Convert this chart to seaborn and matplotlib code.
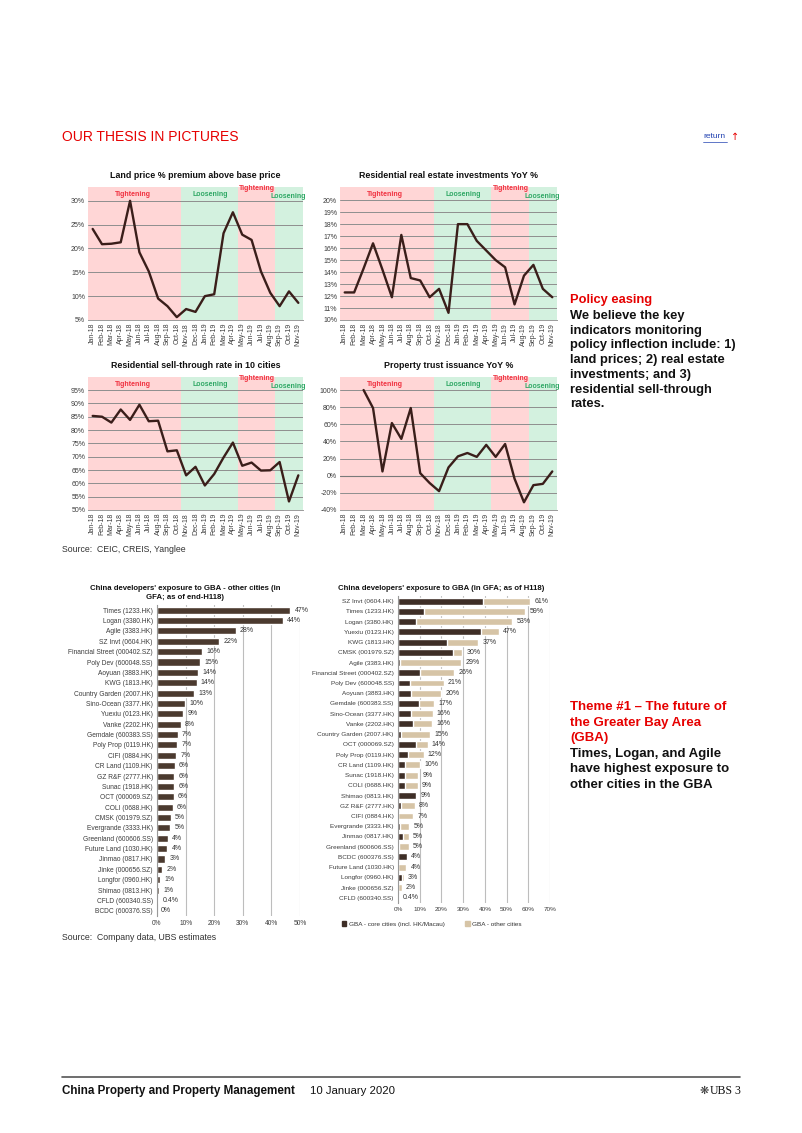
import numpy as np
import matplotlib
matplotlib.use("Agg")
import matplotlib.pyplot as plt
from matplotlib.lines import Line2D
from matplotlib.patches import Patch
from matplotlib.ticker import FuncFormatter
import seaborn as sns

sns.set_theme(style="white")
plt.rcParams["font.family"] = ["Liberation Sans", "DejaVu Sans"]

W, H = 802, 1133

# ---------------- data: policy line charts ----------------
months = ["Jan-18", "Feb-18", "Mar-18", "Apr-18", "May-18", "Jun-18", "Jul-18",
          "Aug-18", "Sep-18", "Oct-18", "Nov-18", "Dec-18", "Jan-19", "Feb-19",
          "Mar-19", "Apr-19", "May-19", "Jun-19", "Jul-19", "Aug-19", "Sep-19",
          "Oct-19", "Nov-19"]

land_premium = [24.1, 20.9, 21.0, 21.3, 30.0, 19.2, 15.2, 9.5, 7.9, 5.6, 7.3, 6.7,
                10.0, 10.4, 23.2, 27.6, 22.9, 21.8, 15.2, 10.7, 7.9, 11.0, 8.6]
res_invest = [12.3, 12.3, 14.3, 16.4, 14.2, 11.9, 17.1, 13.5, 13.3, 11.9, 12.6, 10.6,
              18.0, 18.0, 16.6, 15.8, 15.0, 14.4, 11.3, 13.7, 14.6, 12.6, 11.9]
sell_through = [85.3, 85.0, 82.8, 87.7, 83.8, 89.5, 83.3, 83.5, 72.0, 72.4, 63.0, 66.2,
                59.2, 63.5, 69.7, 75.3, 66.6, 67.8, 64.8, 64.9, 68.0, 53.2, 63.0]
trust_issuance = [np.nan, np.nan, 100.0, 79.0, 5.0, 61.5, 43.0, 79.0, 3.0, -8.5, -18.0, 9.7,
                  22.6, 26.5, 22.0, 36.0, 22.0, 37.0, -3.5, -31.0, -11.0, -9.5, 5.0]

policy_labels = ["Tightening", "Loosening", "Tightening", "Loosening"]
policy_start = [0, 10, 16, 20]
policy_end = [9, 15, 19, 22]

# ---------------- data: GBA exposure bars ----------------
other_names = ["Times (1233.HK)", "Logan (3380.HK)", "Agile (3383.HK)", "SZ Invt (0604.HK)",
               "Financial Street (000402.SZ)", "Poly Dev (600048.SS)", "Aoyuan (3883.HK)",
               "KWG (1813.HK)", "Country Garden (2007.HK)", "Sino-Ocean (3377.HK)",
               "Yuexiu (0123.HK)", "Vanke (2202.HK)", "Gemdale (600383.SS)",
               "Poly Prop (0119.HK)", "CIFI (0884.HK)", "CR Land (1109.HK)",
               "GZ R&F (2777.HK)", "Sunac (1918.HK)", "OCT (000069.SZ)", "COLI (0688.HK)",
               "CMSK (001979.SZ)", "Evergrande (3333.HK)", "Greenland (600606.SS)",
               "Future Land (1030.HK)", "Jinmao (0817.HK)", "Jinke (000656.SZ)",
               "Longfor (0960.HK)", "Shimao (0813.HK)", "CFLD (600340.SS)", "BCDC (600376.SS)"]
other_share = [46.6, 44.0, 27.6, 21.8, 15.8, 15.1, 14.3, 13.9, 12.9, 9.8, 9.1, 8.4, 7.3,
               7.1, 6.8, 6.2, 6.1, 6.1, 5.8, 5.5, 4.8, 4.6, 3.8, 3.6, 2.8, 1.8, 1.1, 0.7,
               0.4, 0.0]
other_labels = ["47%", "44%", "28%", "22%", "16%", "15%", "14%", "14%", "13%", "10%", "9%",
                "8%", "7%", "7%", "7%", "6%", "6%", "6%", "6%", "6%", "5%", "5%", "4%", "4%",
                "3%", "2%", "1%", "1%", "0.4%", "0%"]

gba_names = ["SZ Invt (0604.HK)", "Times (1233.HK)", "Logan (3380.HK)", "Yuexiu (0123.HK)",
             "KWG (1813.HK)", "CMSK (001979.SZ)", "Agile (3383.HK)",
             "Financial Street (000402.SZ)", "Poly Dev (600048.SS)", "Aoyuan (3883.HK)",
             "Gemdale (600383.SS)", "Sino-Ocean (3377.HK)", "Vanke (2202.HK)",
             "Country Garden (2007.HK)", "OCT (000069.SZ)", "Poly Prop (0119.HK)",
             "CR Land (1109.HK)", "Sunac (1918.HK)", "COLI (0688.HK)", "Shimao (0813.HK)",
             "GZ R&F (2777.HK)", "CIFI (0884.HK)", "Evergrande (3333.HK)", "Jinmao (0817.HK)",
             "Greenland (600606.SS)", "BCDC (600376.SS)", "Future Land (1030.HK)",
             "Longfor (0960.HK)", "Jinke (000656.SZ)", "CFLD (600340.SS)"]
gba_total = [60.8, 58.6, 52.7, 46.5, 37.0, 29.6, 29.0, 25.8, 21.0, 20.0, 16.8, 16.0, 15.7,
             14.8, 13.6, 11.8, 10.1, 9.2, 9.0, 8.6, 7.8, 7.0, 5.2, 5.0, 4.9, 4.0, 3.8, 2.6,
             1.8, 0.4]
gba_core = [39.2, 11.9, 8.2, 38.0, 22.5, 25.1, 1.1, 10.0, 5.4, 5.9, 9.7, 6.2, 6.9, 1.6, 8.2,
            4.8, 3.2, 3.0, 3.2, 8.2, 1.3, 0.2, 0.8, 2.5, 0.4, 4.0, 0.2, 1.9, 0.0, 0.0]
gba_labels = ["61%", "59%", "53%", "47%", "37%", "30%", "29%", "26%", "21%", "20%", "17%",
              "16%", "16%", "15%", "14%", "12%", "10%", "9%", "9%", "9%", "8%", "7%", "5%",
              "5%", "5%", "4%", "4%", "3%", "2%", "0.4%"]

# ---------------- colours ----------------
RED = "#E60000"
PINK = "#FFD6D6"
GREEN = "#D3F1DF"
TIGHT_TXT = "#F0303F"
LOOSE_TXT = "#2FA865"
LINE = "#3A1E1A"
BROWN = "#4B3A2F"
DARK = "#3E2E26"
BEIGE = "#D6C4A6"
TICK = "#3C3C3C"

fig = plt.figure(figsize=(W / 100, H / 100), dpi=100)


def add_ax(x0, y0, x1, y1):
    return fig.add_axes([x0 / W, 1 - y1 / H, (x1 - x0) / W, (y1 - y0) / H])


def ftext(x, y, s, **kw):
    kw.setdefault("va", "center")
    return fig.text(x / W, 1 - y / H, s, **kw)


pct = FuncFormatter(lambda v, p: f"{v:.0f}%")


def line_panel(box, values, title, title_y, ylim, yticks):
    ax = add_ax(*box)
    idx = np.arange(len(months))
    for lab, s, e in zip(policy_labels, policy_start, policy_end):
        ax.axvspan(s - 0.5, e + 0.5, color=PINK if lab == "Tightening" else GREEN,
                   lw=0, zorder=0)
    # label placement inside the shaded bands
    for lab, xt, yt in zip(policy_labels, [4.3, 12.6, 17.6, 20.9], [0.945, 0.945, 0.985, 0.93]):
        ax.text(xt, yt, lab, transform=ax.get_xaxis_transform(), ha="center", va="center",
                fontsize=5, fontweight="bold",
                color=TIGHT_TXT if lab == "Tightening" else LOOSE_TXT)
    sns.lineplot(x=idx, y=values, ax=ax, color=LINE, lw=1.7, zorder=3)
    ax.set_xlim(-0.5, len(months) - 0.5)
    ax.set_ylim(*ylim)
    ax.set_yticks(yticks)
    ax.yaxis.set_major_formatter(pct)
    ax.set_xticks(idx)
    ax.set_xticklabels(months, rotation=90)
    ax.tick_params(axis="both", labelsize=5, colors=TICK, length=0, pad=2)
    ax.grid(axis="y", color="#8E8E8E", lw=0.7)
    ax.set_axisbelow("line")
    for sp in ["top", "right", "left"]:
        ax.spines[sp].set_visible(False)
    ax.spines["bottom"].set_color("#9A9A9A")
    ax.spines["bottom"].set_linewidth(0.7)
    ax.set_xlabel("")
    ax.set_ylabel("")
    cx = (box[0] + box[2]) / 2
    ftext(cx, title_y, title, ha="center", fontsize=6.4, fontweight="bold", color="#111")
    return ax


# header
ftext(62, 137, "OUR THESIS IN PICTURES", fontsize=10, color=RED)
ftext(703, 137, "return", fontsize=6, color="#2040B0")
fig.add_artist(Line2D([703 / W, 727 / W], [1 - 141.5 / H] * 2, color="#2040B0", lw=0.5))
ftext(731, 137, "\u2191", fontsize=7, color=RED, family=["DejaVu Sans"])

line_panel((88, 187, 303, 320), land_premium, "Land price % premium above base price", 176,
           (5, 32.9), np.arange(5, 31, 5))
line_panel((340, 187, 557, 320), res_invest, "Residential real estate investments YoY %", 176,
           (10, 21.1), np.arange(10, 21, 1))
line_panel((88, 377, 303, 510), sell_through, "Residential sell-through rate in 10 cities", 365,
           (50, 99.9), np.arange(50, 96, 5))
ax4 = line_panel((340, 377, 557, 510), trust_issuance, "Property trust issuance YoY %", 365,
                 (-40, 115.2), np.arange(-40, 101, 20))
ax4.axhline(0, color="#7A7A7A", lw=0.8, zorder=1.6)

ftext(62, 549, "Source:  CEIC, CREIS, Yanglee", fontsize=6.3, color="#333")

# right-side commentary
ftext(570, 300, "Policy easing", fontsize=9.3, fontweight="bold", color=RED)
policy_lines = ["We believe the key", "indicators monitoring", "policy inflection include: 1)",
                "land prices; 2) real estate", "investments; and 3)", "residential sell-through",
                "rates."]
for i, s in enumerate(policy_lines):
    ftext(570, 316 + 14.7 * i, s, fontsize=9.3, fontweight="bold", color="#111")

theme_red = ["Theme #1 \u2013 The future of", "the Greater Bay Area", "(GBA)"]
theme_black = ["Times, Logan, and Agile", "have highest exposure to", "other cities in the GBA"]
for i, s in enumerate(theme_red + theme_black):
    ftext(570, 707 + 15.6 * i, s, fontsize=9.5, fontweight="bold",
          color=RED if i < 3 else "#111")

# ---------------- left bar chart ----------------
axb = add_ax(157, 605, 300, 916)
sns.barplot(x=other_share, y=other_names, color=BROWN, orient="h", width=0.68,
            saturation=1, ax=axb)
axb.bar_label(axb.containers[0], labels=other_labels, padding=3, fontsize=5, color="#333")
axb.set_xlim(0, 50)
axb.set_ylim(len(other_names) - 0.5, -0.5)
axb.set_xticks(np.arange(0, 51, 10))
axb.xaxis.set_major_formatter(pct)
axb.grid(axis="x", color="#BDBDBD", lw=0.8)
axb.set_axisbelow(True)
axb.tick_params(axis="both", labelsize=4.8, colors=TICK, length=0, pad=3)
for sp in ["top", "right", "bottom"]:
    axb.spines[sp].set_visible(False)
axb.spines["left"].set_color("#9A9A9A")
axb.spines["left"].set_linewidth(0.8)
axb.set_xlabel("")
axb.set_ylabel("")
ftext(185, 588, "China developers' exposure to GBA - other cities (in", ha="center",
      fontsize=5.6, fontweight="bold", color="#111")
ftext(185, 598, "GFA; as of end-H118)", ha="center", fontsize=5.6, fontweight="bold",
      color="#111")

# ---------------- right bar chart ----------------
axc = add_ax(398, 596, 550, 903)
sns.barplot(x=gba_total, y=gba_names, color=BEIGE, orient="h", width=0.68,
            saturation=1, ax=axc)
sns.barplot(x=gba_core, y=gba_names, color=DARK, orient="h", width=0.68,
            saturation=1, ax=axc)
axc.bar_label(axc.containers[0], labels=gba_labels, padding=3, fontsize=5, color="#333")
axc.set_xlim(0, 70)
axc.set_ylim(len(gba_names) - 0.5, -0.5)
axc.set_xticks(np.arange(0, 71, 10))
axc.xaxis.set_major_formatter(pct)
axc.grid(axis="x", color="#BDBDBD", lw=0.8)
axc.set_axisbelow(True)
axc.tick_params(axis="both", labelsize=4.6, colors=TICK, length=0, pad=3)
for sp in ["top", "right", "bottom"]:
    axc.spines[sp].set_visible(False)
axc.spines["left"].set_color("#9A9A9A")
axc.spines["left"].set_linewidth(0.8)
axc.set_xlabel("")
axc.set_ylabel("")
ftext(441, 588, "China developers' exposure to GBA (in GFA; as of H118)", ha="center",
      fontsize=5.6, fontweight="bold", color="#111")
fig.legend(handles=[Patch(color=DARK, label="GBA - core cities (incl. HK/Macau)"),
                    Patch(color=BEIGE, label="GBA - other cities")],
           loc="center left", bbox_to_anchor=(336 / W, 1 - 924 / H), ncol=2, frameon=False,
           fontsize=4.6, handlelength=0.7, handleheight=0.7, handletextpad=0.4,
           columnspacing=3.2, labelcolor="#333")

ftext(62, 938, "Source:  Company data, UBS estimates", fontsize=6.3, color="#333")

# footer
fig.add_artist(Line2D([62 / W, 740 / W], [1 - 1077 / H] * 2, color="#555555", lw=1.2))
ftext(62, 1091, "China Property and Property Management", fontsize=8.4, fontweight="bold",
      color="#111")
ftext(310, 1091, "10 January 2020", fontsize=8.2, color="#111")
ftext(704, 1091, "\u274b", fontsize=8, color="#333", ha="center", family=["DejaVu Sans"])
ftext(710, 1091, "UBS", fontsize=8.5, color="#111", ha="left", family=["Liberation Serif"])
ftext(740, 1091, "3", fontsize=8.5, color="#111", ha="right", family=["Liberation Serif"])

fig.savefig("out.png", dpi=100)
